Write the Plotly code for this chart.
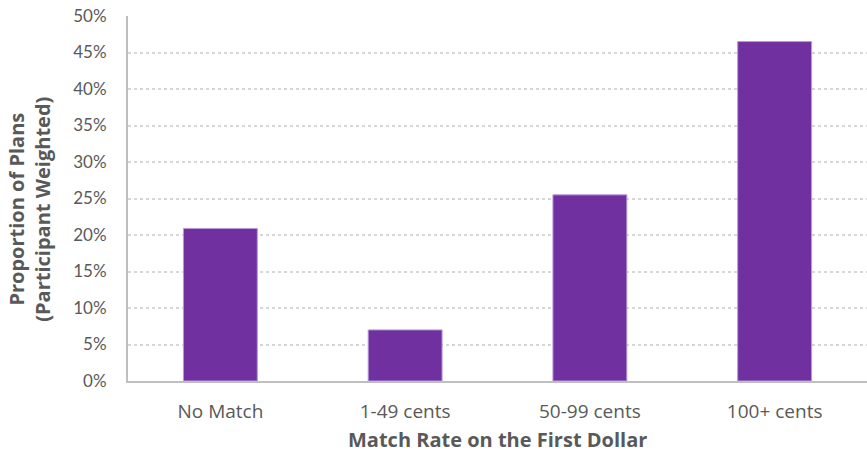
import plotly.graph_objects as go

# Share of plans by employer match rate on the first dollar
categories = ["No Match", "1-49 cents", "50-99 cents", "100+ cents"]
shares = [0.209, 0.070, 0.255, 0.465]
y_ticks = [i * 0.05 for i in range(11)]
y_tick_labels = [f"{i * 5}%" for i in range(11)]

narrow_font = "Lato, sans-serif"
wide_font = "'Open Sans', sans-serif"
grey_text = "#595959"

fig = go.Figure(
    go.Bar(
        x=categories,
        y=shares,
        marker=dict(color="#7030A0", line=dict(color="#B99BD6", width=1)),
        hoverinfo="skip",
    )
)

fig.update_layout(
    width=867,
    height=453,
    margin=dict(l=128, r=0, t=16, b=72),
    paper_bgcolor="white",
    plot_bgcolor="white",
    bargap=0.6,
    showlegend=False,
    font=dict(family=wide_font, color=grey_text, size=17),
)

fig.update_xaxes(
    showline=True,
    linecolor="#BFBFBF",
    linewidth=2,
    showgrid=False,
    ticks="outside",
    ticklen=12,
    tickcolor="rgba(0,0,0,0)",
    tickfont=dict(size=19, color=grey_text, family=wide_font),
)

fig.update_yaxes(
    range=[0, 0.5],
    tickvals=y_ticks,
    ticktext=y_tick_labels,
    showline=True,
    linecolor="#BFBFBF",
    linewidth=2,
    showgrid=True,
    gridcolor="#D6D6D6",
    gridwidth=1.5,
    griddash="dot",
    zeroline=False,
    ticks="outside",
    ticklen=16,
    tickcolor="rgba(0,0,0,0)",
    tickfont=dict(size=17, color=grey_text, family=narrow_font),
)

# Two-line vertical axis title
fig.add_annotation(
    text="<b>Proportion of Plans<br>(Participant Weighted)</b>",
    xref="paper", yref="paper",
    x=-0.133, y=(381 - 209) / 365,
    xanchor="center", yanchor="middle",
    textangle=-90,
    showarrow=False,
    font=dict(size=20, color=grey_text, family=wide_font),
)

fig.add_annotation(
    text="<b>Match Rate on the First Dollar</b>",
    xref="paper", yref="paper",
    x=0.5, y=-(439 - 381) / 365,
    xanchor="center", yanchor="middle",
    borderpad=0,
    showarrow=False,
    font=dict(size=20, color=grey_text, family=wide_font),
)

fig.write_html("out.html")
